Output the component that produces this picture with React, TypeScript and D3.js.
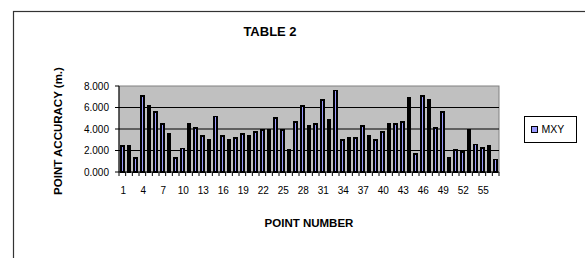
import React from "react";
import * as d3 from "d3";

// 点番号 1..57
const pointNumbers: number[] = d3.range(1, 58);
// MXY の値 (m.)
const mxyValues: number[] = [
  2.45, 2.45, 1.35, 7.08, 6.15, 5.6, 4.5, 3.57, 1.35, 2.23,
  4.5, 4.13, 3.37, 3.02, 5.2, 3.37, 3.02, 3.2, 3.57, 3.37,
  3.74, 3.95, 3.95, 5.03, 3.95, 2.08, 4.7, 6.15, 4.3, 4.5,
  6.72, 4.88, 7.62, 3.02, 3.2, 3.2, 4.3, 3.37, 3.02, 3.74,
  4.5, 4.5, 4.7, 6.92, 1.72, 7.08, 6.72, 4.12, 5.62, 1.35,
  2.05, 1.9, 3.98, 2.6, 2.25, 2.45, 1.2,
];
const yTicks: number[] = [0, 2, 4, 6, 8];
const seriesName = "MXY";

const Chart = () => {
  const width = 585;
  const height = 258;
  // プロットエリア
  const plotLeft = 119;
  const plotRight = 499;
  const plotTop = 86;
  const plotBottom = 172;
  const font = "Arial, 'Liberation Sans', sans-serif";

  const xScale = d3
    .scaleBand<number>()
    .domain(pointNumbers)
    .range([plotLeft, plotRight])
    .paddingInner(0.6)
    .paddingOuter(0.3);
  const step = xScale.step();
  const barStroke = 1.8;

  const yScale = d3.scaleLinear().domain([0, 8]).range([plotBottom, plotTop]);
  const fmt = d3.format(".3f");

  return (
    <svg
      width={width}
      height={height}
      style={{ position: "absolute", left: 0, top: 0, background: "#fff" }}
      fontFamily={font}
    >
      {/* チャートエリアの枠 */}
      <rect x={13.5} y={11.5} width={620} height={300} fill="#fff" stroke="#333" strokeWidth={1.2} />
      {/* タイトル */}
      <text x={270} y={36} textAnchor="middle" fontSize={13} fontWeight="bold">
        TABLE 2
      </text>
      {/* プロットエリア */}
      <rect
        x={plotLeft}
        y={plotTop}
        width={plotRight - plotLeft}
        height={plotBottom - plotTop}
        fill="#c0c0c0"
        stroke="#808080"
        strokeWidth={1}
      />
      {/* グリッド線 */}
      {yTicks
        .filter((t) => t > 0 && t < 8)
        .map((t) => (
          <line key={t} x1={plotLeft} x2={plotRight} y1={yScale(t)} y2={yScale(t)} stroke="#000" strokeWidth={1} />
        ))}
      {/* 棒 */}
      {pointNumbers.map((p, i) => (
        <rect
          key={p}
          x={xScale(p)}
          y={yScale(mxyValues[i]) + barStroke / 2 - 0.5}
          width={xScale.bandwidth()}
          height={plotBottom - yScale(mxyValues[i]) - barStroke / 2 + 0.5}
          fill="#9999ff"
          stroke="#000"
          strokeWidth={barStroke}
          shapeRendering="crispEdges"
        />
      ))}
      {/* y軸 */}
      <line x1={plotLeft} x2={plotLeft} y1={plotTop} y2={plotBottom} stroke="#000" />
      {yTicks.map((t) => (
        <g key={t} transform={`translate(0,${yScale(t)})`}>
          <line x1={plotLeft - 4} x2={plotLeft} stroke="#000" />
          <text x={plotLeft - 10} dy="0.35em" textAnchor="end" fontSize={10}>
            {fmt(t)}
          </text>
        </g>
      ))}
      {/* x軸 */}
      <line x1={plotLeft} x2={plotRight} y1={plotBottom} y2={plotBottom} stroke="#000" />
      {pointNumbers.map((p) => (
        <line
          key={p}
          x1={(xScale(p) as number) - (step - xScale.bandwidth()) / 2}
          x2={(xScale(p) as number) - (step - xScale.bandwidth()) / 2}
          y1={plotBottom}
          y2={plotBottom + 4}
          stroke="#000"
        />
      ))}
      <line x1={plotRight} x2={plotRight} y1={plotBottom} y2={plotBottom + 4} stroke="#000" />
      {pointNumbers
        .filter((p) => (p - 1) % 3 === 0)
        .map((p) => (
          <text
            key={p}
            x={(xScale(p) as number) + xScale.bandwidth() / 2 + 1}
            y={194}
            textAnchor="middle"
            fontSize={10}
          >
            {p}
          </text>
        ))}
      {/* 軸タイトル */}
      <text x={309} y={227} textAnchor="middle" fontSize={11.5} fontWeight="bold">
        POINT NUMBER
      </text>
      <text
        transform={`translate(62,131) rotate(-90)`}
        textAnchor="middle"
        fontSize={11.5}
        fontWeight="bold"
      >
        POINT ACCURACY (m.)
      </text>
      {/* 凡例 */}
      <g transform="translate(524.5,116.5)">
        <rect width={52} height={26} fill="#fff" stroke="#000" />
        <rect x={7} y={10} width={6} height={6} fill="#9999ff" stroke="#000" />
        <text x={17} y={13} dy="0.35em" fontSize={10.5}>
          {seriesName}
        </text>
      </g>
    </svg>
  );
};

export default function App() {
  return <Chart />;
}
